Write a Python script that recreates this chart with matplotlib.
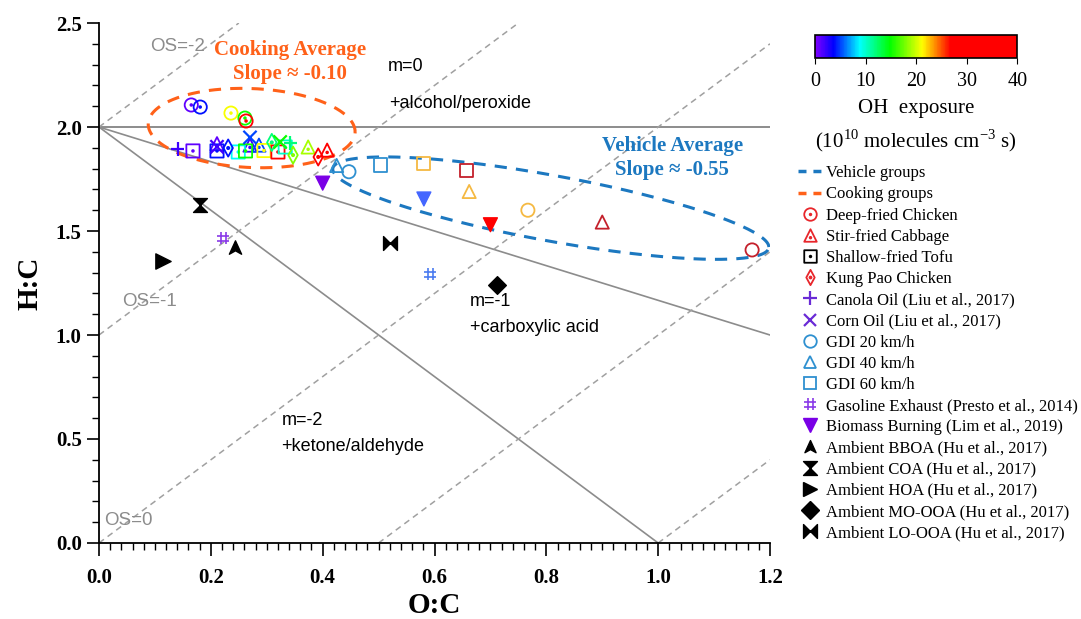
import numpy as np
import matplotlib
matplotlib.use("Agg")
import matplotlib.pyplot as plt
from matplotlib.path import Path
from matplotlib.colors import LinearSegmentedColormap, Normalize
from matplotlib.lines import Line2D

# ---------------- data ----------------
# cooking experiments (O:C, H:C, OH exposure 1e10 molec cm-3 s)
chicken_oc = [0.165, 0.181, 0.236, 0.261, 0.263]
chicken_hc = [2.106, 2.096, 2.067, 2.043, 2.029]
chicken_oh = [1, 4, 21, 15, 30]

cabbage_oc = [0.211, 0.270, 0.286, 0.374, 0.408]
cabbage_hc = [1.920, 1.913, 1.913, 1.904, 1.889]
cabbage_oh = [1, 2, 5, 19, 30]

tofu_oc = [0.168, 0.211, 0.249, 0.262, 0.295, 0.320, 0.333]
tofu_hc = [1.885, 1.885, 1.880, 1.885, 1.887, 1.880, 1.904]
tofu_oh = [1, 4, 9, 15, 21, 30, 10]

kungpao_oc = [0.231, 0.309, 0.347, 0.392]
kungpao_hc = [1.899, 1.926, 1.865, 1.856]
kungpao_oh = [4, 12, 18, 30]

canola_oc = [0.141, 0.342]
canola_hc = [1.894, 1.923]
canola_oh = [2, 12]

corn_oc = [0.211, 0.270, 0.324]
corn_hc = [1.905, 1.950, 1.928]
corn_oh = [2, 5, 15]

# vehicle experiments (low / mid / high exposure)
gdi20_oc = [0.447, 0.767, 1.168]
gdi20_hc = [1.785, 1.600, 1.409]
gdi40_oc = [0.425, 0.662, 0.900]
gdi40_hc = [1.815, 1.690, 1.543]
gdi60_oc = [0.503, 0.580, 0.657]
gdi60_hc = [1.817, 1.826, 1.790]

# literature
gasoline_oc = [0.222, 0.592]
gasoline_hc = [1.466, 1.293]
biomass_oc = [0.400, 0.581, 0.700]
biomass_hc = [1.730, 1.654, 1.530]
bboa_oc, bboa_hc = [0.243], [1.418]
coa_oc, coa_hc = [0.180], [1.625]
hoa_oc, hoa_hc = [0.115], [1.356]
moooa_oc, moooa_hc = [0.712], [1.240]
loooa_oc, loooa_hc = [0.520], [1.440]

# ---------------- styles ----------------
SERIF = ["Liberation Serif", "DejaVu Serif"]
SANS = ["Liberation Sans", "DejaVu Sans"]
ORANGE = "#FF6119"
BLUE = "#1C78C0"
GDI_BLUE = "#2E90D0"
gdi_colors = [GDI_BLUE, "#F5B942", "#C4202B"]
gasoline_colors = ["#8A3BE8", "#4B7CF0"]
biomass_colors = ["#7A00E6", "#4466FF", "#FF0000"]

cmap = LinearSegmentedColormap.from_list(
    "oh", [(0.0, "#8000FF"), (0.09, "#0000FF"), (0.22, "#00FFFF"),
           (0.37, "#00FF00"), (0.53, "#FFFF00"), (0.60, "#FF8000"),
           (0.67, "#FF0000"), (1.0, "#FF0000")])
norm = Normalize(0, 40)


def poly(verts, dot=None):
    codes = [Path.MOVETO] + [Path.LINETO] * (len(verts) - 1) + [Path.CLOSEPOLY]
    p = Path(verts + [verts[0]], codes)
    if dot is not None:
        p = Path.make_compound_path(p, Path.circle(dot, 0.13))
    return p


circ_dot = Path.make_compound_path(Path.unit_circle(), Path.circle((0, 0), 0.13))
tri_dot = poly([(0, 1), (-1, -1), (1, -1)], dot=(0, -0.35))
sq_dot = poly([(-1, -1), (1, -1), (1, 1), (-1, 1)], dot=(0, 0))
dia_dot = poly([(0, 1), (0.55, 0), (0, -1), (-0.55, 0)], dot=(0, 0))
hash_m = Path([(-0.4, 1), (-0.4, -1), (0.4, 1), (0.4, -1),
               (-1, 0.4), (1, 0.4), (-1, -0.4), (1, -0.4)],
              [Path.MOVETO, Path.LINETO] * 4)
arrow_m = poly([(0, 1), (0.8, -0.75), (0, -0.3), (-0.8, -0.75)])
hour_m = Path.make_compound_path(poly([(-1, 1), (1, 1), (0, 0)]),
                                 poly([(-1, -1), (1, -1), (0, 0)]))
bow_m = Path.make_compound_path(poly([(-1, 1), (-1, -1), (0, 0)]),
                                poly([(1, 1), (1, -1), (0, 0)]))

plt.rcParams["font.family"] = SERIF
plt.rcParams["mathtext.fontset"] = "custom"
plt.rcParams["mathtext.rm"] = "Liberation Serif"

fig = plt.figure(figsize=(10.81, 6.19), dpi=100)
ax = fig.add_axes([0.0916, 0.1228, 0.6207, 0.8400])
ax.set_xlim(0, 1.2)
ax.set_ylim(0, 2.5)

# reference lines
gray = "#8C8C8C"
ax.plot([0, 1.2], [2, 2], color=gray, lw=1.4)
ax.plot([0, 1.2], [2, 1.0], color=gray, lw=1.2)
ax.plot([0, 1.0], [2, 0], color=gray, lw=1.2)
for os_ in [-2, -1, 0, 1, 2]:
    xs = np.array([max(0, (0 + os_) / 2), min(1.2, (2.5 + os_) / 2)])
    ax.plot(xs, 2 * xs - os_, color="#A0A0A0", lw=1.1, ls=(0, (4, 3)))

for txt, x, y in [("OS=-2", 0.091, 2.385), ("OS=-1", 0.041, 1.16), ("OS=0", 0.009, 0.11)]:
    ax.text(x, y, txt, color="#8C8C8C", fontsize=13.5, family=SANS, va="center")
for txt, x, y in [("m=0", 0.517, 2.293), ("+alcohol/peroxide", 0.519, 2.115),
                  ("m=-1", 0.664, 1.163), ("+carboxylic acid", 0.664, 1.038),
                  ("m=-2", 0.326, 0.591), ("+ketone/aldehyde", 0.326, 0.466)]:
    ax.text(x, y, txt, fontsize=13, family=SANS, va="center")
ax.text(0.342, 2.312, "Cooking Average\nSlope ≈ -0.10", color=ORANGE, fontsize=15,
        fontweight="bold", ha="center", va="center", linespacing=1.25)
ax.text(1.025, 1.85, "Vehicle Average\nSlope ≈ -0.55", color=BLUE, fontsize=15,
        fontweight="bold", ha="center", va="center", linespacing=1.25)

# group ellipses (sheared along the average slope)
t = np.linspace(0, 2 * np.pi, 300)
ax.plot(0.273 + 0.185 * np.cos(t), 1.995 - 0.10 * 0.185 * np.cos(t) + 0.19 * np.sin(t),
        color=ORANGE, lw=2.2, ls=(0, (4, 3)))
ax.plot(0.808 + 0.39 * np.cos(t), 1.61 - 0.48 * 0.39 * np.cos(t) + 0.16 * np.sin(t),
        color=BLUE, lw=2.2, ls=(0, (4, 3)))

lw = 1.3
ms = 9.5
def ohc(v):
    return cmap(norm(np.array(v)))

ax.scatter(chicken_oc, chicken_hc, marker=circ_dot, s=ms**2, facecolors="none", edgecolors=ohc(chicken_oh), linewidths=lw, zorder=3)
ax.scatter(cabbage_oc, cabbage_hc, marker=tri_dot, s=ms**2, facecolors="none", edgecolors=ohc(cabbage_oh), linewidths=lw, zorder=3)
ax.scatter(tofu_oc, tofu_hc, marker=sq_dot, s=ms**2, facecolors="none", edgecolors=ohc(tofu_oh), linewidths=lw, zorder=3)
ax.scatter(kungpao_oc, kungpao_hc, marker=dia_dot, s=(ms * 1.3)**2, facecolors="none", edgecolors=ohc(kungpao_oh), linewidths=lw, zorder=3)
ax.scatter(canola_oc, canola_hc, marker="+", s=ms**2, color=ohc(canola_oh), linewidths=1.6, zorder=3)
ax.scatter(corn_oc, corn_hc, marker="x", s=ms**2, color=ohc(corn_oh), linewidths=1.6, zorder=3)

ax.scatter(gdi20_oc, gdi20_hc, marker="o", s=ms**2, facecolors="none", edgecolors=gdi_colors, linewidths=lw, zorder=3)
ax.scatter(gdi40_oc, gdi40_hc, marker="^", s=ms**2, facecolors="none", edgecolors=gdi_colors, linewidths=lw, zorder=3)
ax.scatter(gdi60_oc, gdi60_hc, marker="s", s=ms**2, facecolors="none", edgecolors=gdi_colors, linewidths=lw, zorder=3)

ax.scatter(gasoline_oc, gasoline_hc, marker=hash_m, s=9**2, facecolors="none", edgecolors=gasoline_colors, linewidths=1.2, zorder=3)
ax.scatter(biomass_oc, biomass_hc, marker="v", s=10**2, color=biomass_colors, zorder=3)
ax.scatter(bboa_oc, bboa_hc, marker=arrow_m, s=11**2, color="black", zorder=3)
ax.scatter(coa_oc, coa_hc, marker=hour_m, s=10**2, color="black", zorder=3)
ax.scatter(hoa_oc, hoa_hc, marker=">", s=11**2, color="black", zorder=3)
ax.scatter(moooa_oc, moooa_hc, marker="D", s=9**2, color="black", zorder=3)
ax.scatter(loooa_oc, loooa_hc, marker=bow_m, s=10**2, color="black", zorder=3)

# axes styling
for side in ["top", "right"]:
    ax.spines[side].set_visible(False)
for side in ["left", "bottom"]:
    ax.spines[side].set_linewidth(1.3)
ax.set_xticks(np.arange(0, 1.21, 0.2))
ax.set_xticks(np.arange(0, 1.21, 0.02), minor=True)
ax.set_yticks(np.arange(0, 2.51, 0.5))
ax.set_yticks(np.arange(0, 2.51, 0.1), minor=True)
ax.tick_params(which="major", length=9, width=1.2, labelsize=15, direction="out")
ax.tick_params(which="minor", length=5, width=1.0, direction="out")
ax.tick_params(axis="x", which="major", pad=9)
for lab in ax.get_xticklabels() + ax.get_yticklabels():
    lab.set_fontweight("bold")
ax.set_xlabel("O:C", fontsize=21, fontweight="bold", labelpad=3)
ax.set_ylabel("H:C", fontsize=21, fontweight="bold", labelpad=9)

# colorbar
cax = fig.add_axes([0.754, 0.906, 0.187, 0.037])
sm = plt.cm.ScalarMappable(norm=norm, cmap=cmap)
cb = fig.colorbar(sm, cax=cax, orientation="horizontal")
cb.set_ticks([0, 10, 20, 30, 40])
cb.ax.tick_params(labelsize=14.5, length=4, pad=6)
cb.outline.set_linewidth(1.2)
cb.set_label("OH  exposure\n(10$^{10}$ molecules cm$^{-3}$ s)", fontsize=15,
             linespacing=1.45, labelpad=6)

# legend
handles = [
    Line2D([], [], color=BLUE, lw=2.5, ls=(0, (2.3, 2.0))),
    Line2D([], [], color=ORANGE, lw=2.5, ls=(0, (2.3, 2.0))),
    Line2D([], [], ls="none", marker=circ_dot, ms=9, mfc="none", mec="#E8262B", mew=lw),
    Line2D([], [], ls="none", marker=tri_dot, ms=9, mfc="none", mec="#E8262B", mew=lw),
    Line2D([], [], ls="none", marker=sq_dot, ms=9, mfc="none", mec="black", mew=lw),
    Line2D([], [], ls="none", marker=dia_dot, ms=11, mfc="none", mec="#E8262B", mew=lw),
    Line2D([], [], ls="none", marker="+", ms=10, color="#6A2BD6", mew=1.6),
    Line2D([], [], ls="none", marker="x", ms=9, color="#6A2BD6", mew=1.6),
    Line2D([], [], ls="none", marker="o", ms=9, mfc="none", mec=GDI_BLUE, mew=lw),
    Line2D([], [], ls="none", marker="^", ms=9, mfc="none", mec=GDI_BLUE, mew=lw),
    Line2D([], [], ls="none", marker="s", ms=9, mfc="none", mec=GDI_BLUE, mew=lw),
    Line2D([], [], ls="none", marker=hash_m, ms=9, mfc="none", mec="#8A3BE8", mew=1.2),
    Line2D([], [], ls="none", marker="v", ms=10, color="#7A00E6"),
    Line2D([], [], ls="none", marker=arrow_m, ms=10, color="black"),
    Line2D([], [], ls="none", marker=hour_m, ms=10, color="black"),
    Line2D([], [], ls="none", marker=">", ms=10, color="black"),
    Line2D([], [], ls="none", marker="D", ms=9, color="black"),
    Line2D([], [], ls="none", marker=bow_m, ms=10, color="black"),
]
labels = ["Vehicle groups", "Cooking groups", "Deep-fried Chicken", "Stir-fried Cabbage",
          "Shallow-fried Tofu", "Kung Pao Chicken", "Canola Oil (Liu et al., 2017)",
          "Corn Oil (Liu et al., 2017)", "GDI 20 km/h", "GDI 40 km/h", "GDI 60 km/h",
          "Gasoline Exhaust (Presto et al., 2014)", "Biomass Burning (Lim et al., 2019)",
          "Ambient BBOA (Hu et al., 2017)", "Ambient COA (Hu et al., 2017)",
          "Ambient HOA (Hu et al., 2017)", "Ambient MO-OOA (Hu et al., 2017)",
          "Ambient LO-OOA (Hu et al., 2017)"]
fig.legend(handles, labels, loc="upper left", bbox_to_anchor=(0.738, 0.733),
           frameon=False, fontsize=12, handlelength=1.44, handletextpad=0.28,
           labelspacing=0.31, borderaxespad=0, borderpad=0)

fig.savefig("out.png", dpi=100)
